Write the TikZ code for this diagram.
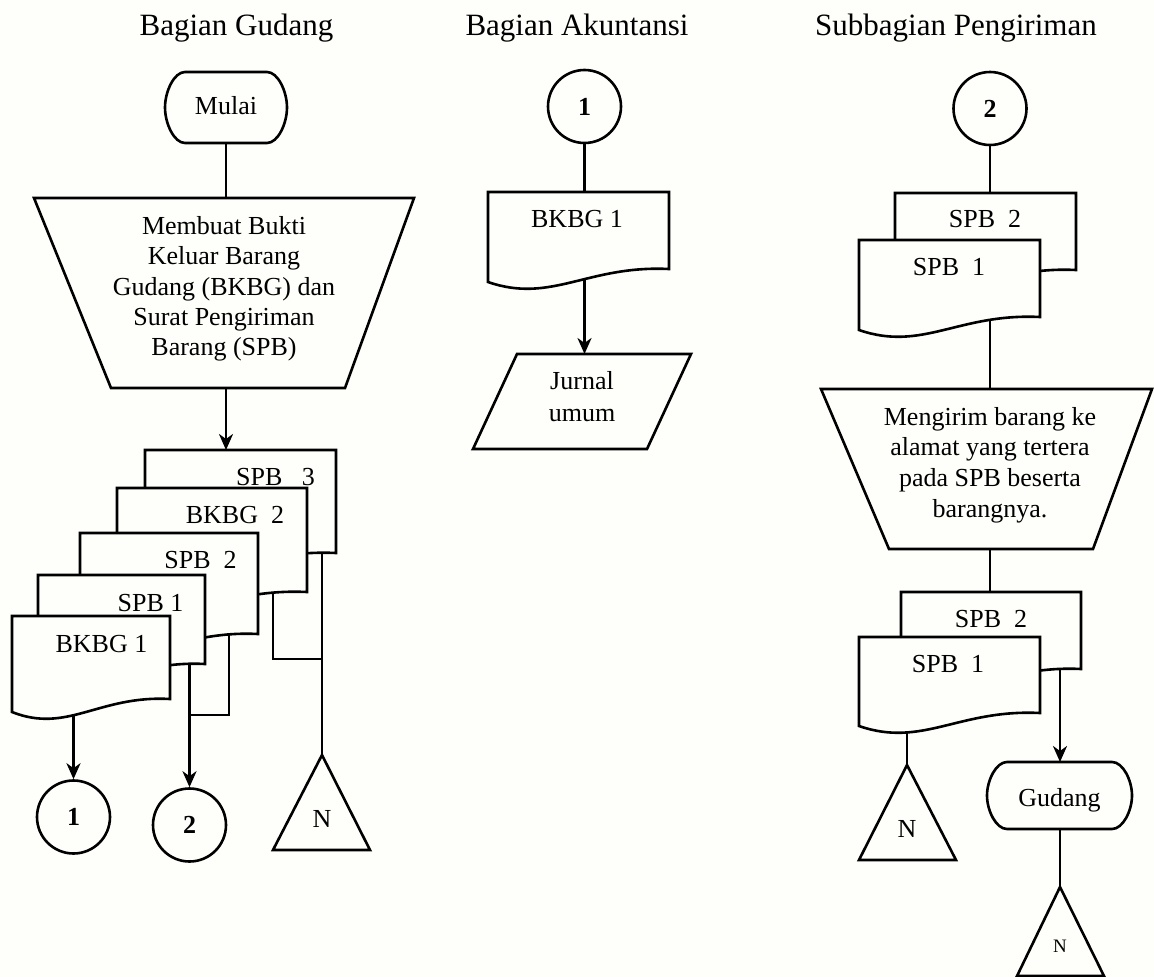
\documentclass[tikz,border=0pt]{standalone}
\usepackage{fontspec}
\setmainfont{Liberation Serif}
\usetikzlibrary{arrows.meta}
\definecolor{paper}{RGB}{254,254,250}
\pgfdeclarelayer{back}
\pgfsetlayers{back,main}

\tikzset{
  ln/.style={line width=2.6pt, line join=miter},
  arr/.style={ln, -{Stealth[length=16pt,width=14pt,inset=5pt]}},
  shp/.style={ln, fill=paper},
  txt/.style={anchor=base, inner sep=0pt, font=\fontsize{26}{30}\selectfont},
  small/.style={anchor=base, inner sep=0pt, font=\fontsize{19}{22}\selectfont},
  head/.style={anchor=base, inner sep=0pt, font=\fontsize{31}{36}\selectfont},
  conn/.style={circle, draw, ln, fill=paper, minimum size=73pt, inner sep=0pt,
    font=\fontsize{26}{30}\selectfont\bfseries},
}

% document sheet: left, top, right, bottom at the right edge
\newcommand\docsheet[4]{%
  \filldraw[shp] (#1,#2) -- (#3,#2) -- (#3,#4)
    .. controls ({#1+0.55*(#3-#1)},{#4-4}) and ({#1+0.35*(#3-#1)},{#4+35}) .. (#1,{#4+13})
    -- cycle;}

% terminator: left, top, right, bottom
\newcommand\termshape[4]{%
  \filldraw[shp] ({#1+20},#2) -- ({#3-20},#2)
    .. controls ({#3-9},#2) and (#3,{#2+0.276*(#4-#2)}) .. (#3,{0.5*(#2+#4)})
    .. controls (#3,{#4-0.276*(#4-#2)}) and ({#3-9},#4) .. ({#3-20},#4)
    -- ({#1+20},#4)
    .. controls ({#1+9},#4) and (#1,{#4-0.276*(#4-#2)}) .. (#1,{0.5*(#2+#4)})
    .. controls (#1,{#2+0.276*(#4-#2)}) and ({#1+9},#2) .. ({#1+20},#2) -- cycle;}

\begin{document}
\begin{tikzpicture}[x=1pt,y=-1pt]
\begin{pgfonlayer}{back}
  \fill[paper] (0,0) rectangle (1154,977);
\end{pgfonlayer}
\useasboundingbox (0,0) rectangle (1154,977);

% ---------- column headers ----------
\node[head] (h1) at (236.5,35) {Bagian Gudang};
\node[head] (h2) at (577,35) {Bagian Akuntansi};
\node[head] (h3) at (956,35) {Subbagian Pengiriman};

% ---------- connection points ----------
\coordinate (mulai-b) at (226,130);
\coordinate (p1-t)    at (226,198);
\coordinate (p1-b)    at (226,388);
\coordinate (spb3-t)  at (226,450);
\coordinate (bk1-b)   at (73.5,700);
\coordinate (spb1-b)  at (189.5,650);
\coordinate (spb2-b)  at (229,625);
\coordinate (j2)      at (189.5,715);
\coordinate (bk2-b)   at (273,585);
\coordinate (j3)      at (322,659);
\coordinate (spb3-b)  at (322,545);
\coordinate (n1-t)    at (322,755);

\coordinate (a-doc-t) at (584.5,192);
\coordinate (a-doc-b) at (584.5,270);
\coordinate (jr-t)    at (584.5,354);

\coordinate (r-doc-t) at (990,193);
\coordinate (r-doc-b) at (990,320);
\coordinate (p2-t)    at (990,389);
\coordinate (p2-b)    at (990,549);
\coordinate (r2-doc-t) at (990,592);
\coordinate (r2-spb1-b) at (907,720);
\coordinate (n2-t)    at (907,765);
\coordinate (r2-spb2-b) at (1060,660);
\coordinate (gd-t)    at (1060,762);
\coordinate (gd-b)    at (1060,820);
\coordinate (n3-t)    at (1060,887);

% ---------- connector nodes ----------
\node[conn] (c1) at (73.5,817) {1};
\node[conn] (c2) at (189.5,825) {2};
\node[conn] (c3) at (584.5,106.5) {1};
\node[conn] (c4) at (990,108.5) {2};

% ---------- flow lines (kept behind the symbols) ----------
\begin{pgfonlayer}{back}
  \draw[ln]  (mulai-b) -- (p1-t);
  \draw[arr] (p1-b) -- (spb3-t);
  \draw[arr] (bk1-b) -- (c1);
  \draw[arr] (spb1-b) -- (c2);
  \draw[ln]  (spb2-b) |- (j2);
  \draw[ln]  (bk2-b) |- (j3);
  \draw[ln]  (spb3-b) -- (n1-t);
  \draw[ln]  (c3) -- (a-doc-t);
  \draw[arr] (a-doc-b) -- (jr-t);
  \draw[ln]  (c4) -- (r-doc-t);
  \draw[ln]  (r-doc-b) -- (p2-t);
  \draw[ln]  (p2-b) -- (r2-doc-t);
  \draw[ln]  (r2-spb1-b) -- (n2-t);
  \draw[arr] (r2-spb2-b) -- (gd-t);
  \draw[ln]  (gd-b) -- (n3-t);
\end{pgfonlayer}

% ---------- Bagian Gudang ----------
\termshape{165}{72}{287}{143}
\node[txt] (mulai) at (226,114) {Mulai};

\filldraw[shp] (34,198) -- (414,198) -- (345,388) -- (111,388) -- cycle;
\node[txt] (p1a) at (224,234) {Membuat Bukti};
\node[txt] (p1b) at (224,264) {Keluar Barang};
\node[txt] (p1c) at (224,295) {Gudang (BKBG) dan};
\node[txt] (p1d) at (224,325) {Surat Pengiriman};
\node[txt] (p1e) at (224,355) {Barang (SPB)};

\docsheet{145}{450}{336}{553}
\node[txt] (l-spb3) at (275.5,485) {SPB\ \ \ 3};
\docsheet{117}{488}{307}{592}
\node[txt] (l-bk2) at (235,523) {BKBG\ \ 2};
\docsheet{80}{533}{258}{634}
\node[txt] (l-spb2) at (200.5,568) {SPB\ \ 2};
\docsheet{38}{575}{205}{664}
\node[txt] (l-spb1) at (150.5,611) {SPB 1};
\docsheet{12}{616}{170}{699}
\node[txt] (l-bk1) at (101.5,652) {BKBG 1};

\filldraw[shp] (n1-t) -- (370,850) -- (273,850) -- cycle;
\node[txt] (n1) at (322,827) {N};

% ---------- Bagian Akuntansi ----------
\docsheet{488}{192}{669}{269}
\node[txt] (a-bk1) at (577,227) {BKBG 1};
\filldraw[shp] (517,354) -- (691,354) -- (647,449) -- (473,449) -- cycle;
\node[txt] (jr1) at (582,389) {Jurnal};
\node[txt] (jr2) at (582,421) {umum};

% ---------- Subbagian Pengiriman ----------
\docsheet{895}{193}{1076}{270}
\node[txt] (r-spb2) at (985,227) {SPB\ \ 2};
\docsheet{859}{240}{1040}{317}
\node[txt] (r-spb1) at (949,275) {SPB\ \ 1};

\filldraw[shp] (821,389) -- (1152,389) -- (1093,549) -- (889,549) -- cycle;
\node[txt] (p2a) at (990,425) {Mengirim barang ke};
\node[txt] (p2b) at (990,455) {alamat yang tertera};
\node[txt] (p2c) at (990,486) {pada SPB beserta};
\node[txt] (p2d) at (990,517) {barangnya.};

\docsheet{901}{592}{1081}{669}
\node[txt] (r2-spb2) at (991,627) {SPB\ \ 2};
\docsheet{859}{637}{1040}{713}
\node[txt] (r2-spb1) at (948,672) {SPB\ \ 1};

\filldraw[shp] (n2-t) -- (956,860) -- (859,860) -- cycle;
\node[txt] (n2) at (907,837) {N};

\termshape{987}{762}{1132}{829}
\node[txt] (gudang) at (1059.5,806) {Gudang};

\filldraw[shp] (n3-t) -- (1104,976) -- (1017,976) -- cycle;
\node[small] (n3) at (1060,952) {N};
\end{tikzpicture}
\end{document}
